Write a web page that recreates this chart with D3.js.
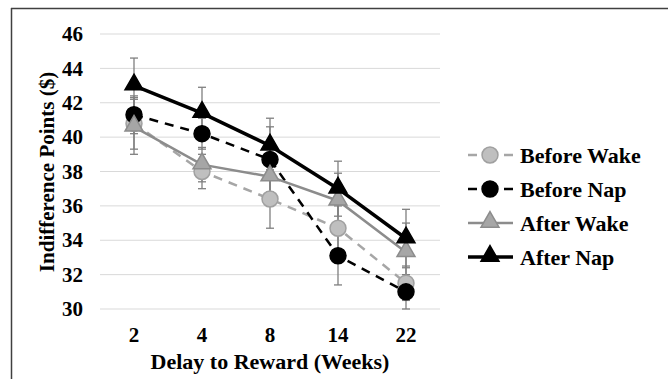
<!DOCTYPE html>
<html>
<head>
<meta charset="utf-8">
<script src="https://cdn.jsdelivr.net/npm/d3@7"></script>
<style>
  body { margin: 0; background: #fff; }
  svg text { font-family: "Liberation Serif", "Times New Roman", serif; font-weight: bold; fill: #000; }
</style>
</head>
<body>
<div id="chart"></div>
<script>
// delay categories (weeks)
const delays = ["2", "4", "8", "14", "22"];
const yTicks = [30, 32, 34, 36, 38, 40, 42, 44, 46];

// indifference points ($) per condition
const beforeWake = [40.8, 38.0, 36.4, 34.7, 31.5];
const beforeNap = [41.3, 40.2, 38.7, 33.1, 31.0];
const afterWake = [40.6, 38.4, 37.7, 36.3, 33.3];
const afterNap = [43.0, 41.4, 39.5, 37.0, 34.1];

// error bar half widths
const beforeWakeErr = [1.5, 1.0, 1.7, 1.3, 1.0];
const beforeNapErr = [1.1, 0.9, 1.9, 1.7, 1.0];
const afterWakeErr = [1.6, 1.0, 1.3, 1.6, 1.7];
const afterNapErr = [1.6, 1.5, 1.6, 1.6, 1.7];

const seriesNames = ["Before Wake", "Before Nap", "After Wake", "After Nap"];

const W = 668, H = 379;
const svg = d3.select("#chart").append("svg").attr("width", W).attr("height", H);

// frame (top + left only visible)
svg.append("line").attr("x1", 11).attr("x2", W).attr("y1", 8.5).attr("y2", 8.5)
  .attr("stroke", "#404040").attr("stroke-width", 1.5);
svg.append("line").attr("x1", 11.5).attr("x2", 11.5).attr("y1", 8).attr("y2", H)
  .attr("stroke", "#404040").attr("stroke-width", 1.5);

const x = d3.scaleBand().domain(delays).range([100, 440]);
const y = d3.scaleLinear().domain([30, 46]).range([309, 34]);
const cx = d => x(d) + x.bandwidth() / 2;

// gridlines
svg.append("g").selectAll("line").data(yTicks).join("line")
  .attr("x1", 100).attr("x2", 440)
  .attr("y1", d => y(d)).attr("y2", d => y(d))
  .attr("stroke", "#d9d9d9").attr("stroke-width", 1);

// y tick labels
svg.append("g").selectAll("text").data(yTicks).join("text")
  .attr("x", 83).attr("y", d => y(d)).attr("dy", "0.34em")
  .attr("text-anchor", "end").attr("font-size", 21)
  .text(d => d);

// x tick labels
svg.append("g").selectAll("text").data(delays).join("text")
  .attr("x", d => cx(d)).attr("y", 342)
  .attr("text-anchor", "middle").attr("font-size", 21)
  .text(d => d);

// axis titles
svg.append("text").attr("x", 270).attr("y", 369)
  .attr("text-anchor", "middle").attr("font-size", 22)
  .text("Delay to Reward (Weeks)");
svg.append("text")
  .attr("transform", "translate(54,172) rotate(-90)")
  .attr("text-anchor", "middle").attr("font-size", 21)
  .text("Indifference Points ($)");

const series = [
  { name: seriesNames[0], vals: beforeWake, err: beforeWakeErr, stroke: "#a6a6a6", width: 2.5, dash: "9,7",
    shape: "circle", fill: "#bfbfbf", mstroke: "#a0a0a0" },
  { name: seriesNames[1], vals: beforeNap, err: beforeNapErr, stroke: "#000", width: 2.5, dash: "9,7",
    shape: "circle", fill: "#000", mstroke: "#000" },
  { name: seriesNames[2], vals: afterWake, err: afterWakeErr, stroke: "#8c8c8c", width: 2.5, dash: null,
    shape: "triangle", fill: "#a6a6a6", mstroke: "#8c8c8c" },
  { name: seriesNames[3], vals: afterNap, err: afterNapErr, stroke: "#000", width: 3.5, dash: null,
    shape: "triangle", fill: "#000", mstroke: "#000" }
];

// error bars
const eb = svg.append("g");
series.forEach(s => {
  s.vals.forEach((v, i) => {
    const px = cx(delays[i]);
    const g = eb.append("g").attr("stroke", "#7f7f7f").attr("stroke-width", 1.3);
    g.append("line").attr("x1", px).attr("x2", px).attr("y1", y(v + s.err[i])).attr("y2", y(v - s.err[i]));
    [v + s.err[i], v - s.err[i]].forEach(t => {
      g.append("line").attr("x1", px - 4).attr("x2", px + 4).attr("y1", y(t)).attr("y2", y(t));
    });
  });
});

const line = d3.line().x((d, i) => cx(delays[i])).y(d => y(d));
const circleSym = d3.symbol().type(d3.symbolCircle).size(200);
const triSym = d3.symbol().type(d3.symbolTriangle).size(140);

function drawMarker(g, s, px, py) {
  g.append("path")
    .attr("d", s.shape === "circle" ? circleSym() : triSym())
    .attr("transform", "translate(" + px + "," + (py + (s.shape === "circle" ? 0 : -1)) + ")")
    .attr("fill", s.fill).attr("stroke", s.mstroke).attr("stroke-width", 1.5);
}

series.forEach(s => {
  const g = svg.append("g");
  g.append("path").datum(s.vals)
    .attr("d", line).attr("fill", "none")
    .attr("stroke", s.stroke).attr("stroke-width", s.width)
    .attr("stroke-dasharray", s.dash);
  s.vals.forEach((v, i) => drawMarker(g, s, cx(delays[i]), y(v)));
});

// legend
const legY = [155, 189, 223, 257];
series.forEach((s, i) => {
  const g = svg.append("g");
  g.append("line").attr("x1", 468).attr("x2", 513).attr("y1", legY[i]).attr("y2", legY[i])
    .attr("stroke", s.stroke).attr("stroke-width", s.width).attr("stroke-dasharray", s.dash ? "9,27" : null);
  drawMarker(g, s, 490, legY[i]);
  g.append("text").attr("x", 520).attr("y", legY[i]).attr("dy", "0.35em")
    .attr("font-size", 22).text(s.name);
});
</script>
</body>
</html>
